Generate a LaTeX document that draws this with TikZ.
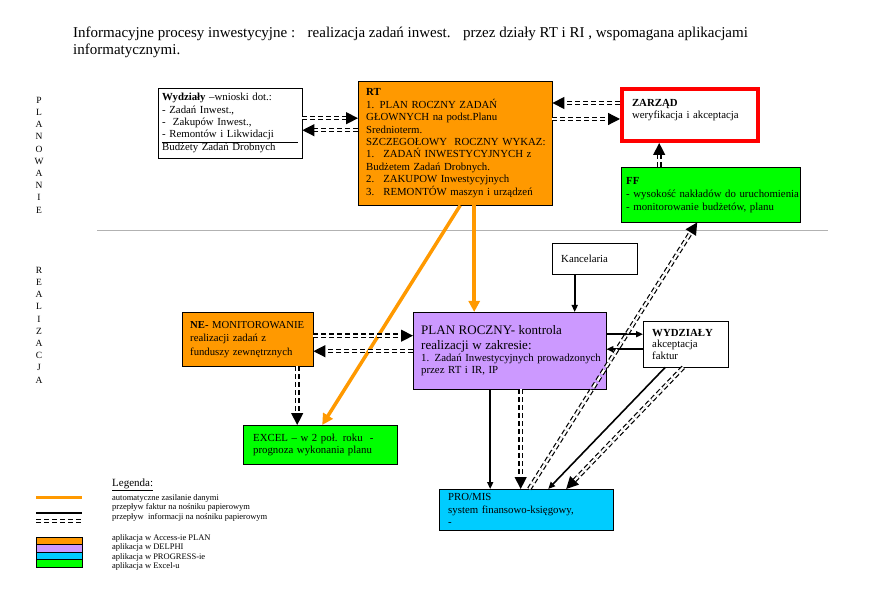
\documentclass[tikz,border=0pt]{standalone}
\usepackage{fontspec}
\setmainfont{Liberation Serif}
\usetikzlibrary{arrows.meta}
\definecolor{planorange}{RGB}{255,153,0}
\definecolor{delphiviolet}{RGB}{204,153,255}
\definecolor{progresscyan}{RGB}{0,204,255}
\definecolor{excelgreen}{RGB}{0,255,0}

\begin{document}
\begin{tikzpicture}[x=1pt,y=-1pt]
	\tikzstyle{box}=[rectangle,draw,anchor=north west,align=left,inner ysep=2pt,font=\fontsize{10.8}{12.4}\selectfont]
	\tikzstyle{info}=[double,double distance=2.2pt,line width=1.2pt,dash pattern=on 5pt off 3pt,-{Triangle[length=12pt,width=12pt]}]
	\tikzstyle{invoice}=[line width=1.6pt,-{Triangle[length=7pt,width=6pt]}]
	\tikzstyle{feed}=[line width=3.5pt,planorange,-{Triangle[length=11pt,width=11pt]}]
	\tikzstyle{legendtext}=[anchor=west,inner sep=0pt,font=\fontsize{8.5}{10}\selectfont]
	\tikzstyle{phase}=[align=center,inner sep=0pt,font=\fontsize{9.5}{12.2}\selectfont]
	\useasboundingbox (0,0) rectangle (886,601);
	\node (title) at (73,27) [anchor=north west,inner sep=0pt,align=left,font=\fontsize{15}{17}\selectfont] {Informacyjne procesy inwestycyjne :~~ realizacja zadań inwest.~~ przez działy RT i RI , wspomagana aplikacjami\\informatycznymi.};
	\node (phase1) at (39,155) [phase] {P\\L\\A\\N\\O\\W\\A\\N\\I\\E};
	\node (phase2) at (39,325) [phase] {R\\E\\A\\L\\I\\Z\\A\\C\\J\\A};
	\draw [gray!60,line width=0.8pt] (97,230) -- (828,230);
	\node (wydz) at (158,88) [box,inner xsep=4pt,text width=136pt,minimum height=70pt] {\begin{tabular}{@{}p{136pt}@{}}\textbf{Wydziały} --wnioski dot.:\\- Zadań Inwest.,\\-~ Zakupów Inwest.,\\- Remontów i Likwidacji\\\hline Budżety Zadań Drobnych\end{tabular}};
	\node (rt) at (358,81) [box,fill=planorange,inner xsep=8pt,text width=178pt,minimum height=124pt] {\textbf{RT}\\1. PLAN ROCZNY ZADAŃ\\GŁOWNYCH na podst.Planu\\Srednioterm.\\\mbox{SZCZEGOŁOWY~ ROCZNY WYKAZ:}\\\mbox{1.~ ZADAŃ INWESTYCYJNYCH z}\\Budżetem Zadań Drobnych.\\2.~ ZAKUPOW Inwestycyjnych\\\mbox{3.~ REMONTÓW maszyn i urządzeń}};
	\node (zarzad) at (620,87) [box,draw=red,line width=4pt,inner xsep=10pt,inner ysep=0pt,text width=116pt,minimum height=52pt,text depth=24pt] {\textbf{ZARZĄD}\\weryfikacja i akceptacja};
	\node (ff) at (621,167) [box,fill=excelgreen,inner xsep=5pt,text width=169pt,minimum height=55pt,font=\fontsize{10.8}{13}\selectfont] {\textbf{FF}\\\mbox{- wysokość nakładów do uruchomienia}\\- monitorowanie budżetów, planu};
	\node (kanc) at (552,243) [box,inner xsep=9pt,text width=67pt,minimum height=31pt] {Kancelaria};
	\node (ne) at (182,312) [box,fill=planorange,inner xsep=8pt,text width=115pt,minimum height=54pt,font=\fontsize{10.7}{13.5}\selectfont] {\mbox{\textbf{NE-} MONITOROWANIE}\\realizacji zadań z\\funduszy zewnętrznych};
	\node (plan) at (413,312) [box,fill=delphiviolet,inner xsep=8pt,text width=177pt,minimum height=77pt] {{\fontsize{13}{15}\selectfont PLAN ROCZNY- kontrola\\realizacji w zakresie:\par}\mbox{1. Zadań Inwestycyjnych prowadzonych}\\przez RT i IR, IP};
	\node (wydz2) at (643,321) [box,inner xsep=9pt,text width=67pt,minimum height=46pt,font=\fontsize{10.8}{11.6}\selectfont] {\textbf{WYDZIAŁY}\\akceptacja\\faktur};
	\node (excel) at (243,425) [box,fill=excelgreen,inner xsep=10pt,text width=134pt,minimum height=39pt] {EXCEL -- w 2 poł. roku~ -\\prognoza wykonania planu};
	\node (promis) at (439,489) [box,fill=progresscyan,inner xsep=9pt,text width=156pt,minimum height=41pt,font=\fontsize{10.8}{12.5}\selectfont] {PRO/MIS\\system finansowo-księgowy,\\-};
	\draw [info] ([yshift=5pt]wydz.east) -- ([yshift=5pt]wydz.east -| rt.west);
	\draw [info] ([yshift=-7pt]wydz.east -| rt.west) -- ([yshift=-7pt]wydz.east);
	\draw [info] ([yshift=12pt]zarzad.west) -- ([yshift=12pt]zarzad.west -| rt.east);
	\draw [info] ([yshift=-4pt]zarzad.west -| rt.east) -- ([yshift=-4pt]zarzad.west);
	\draw [info] ([xshift=-51.5pt]ff.north) -- ([xshift=-51.5pt]ff.north |- zarzad.south);
	\draw [feed] ([xshift=19pt]rt.south) -- ([xshift=19pt]rt.south |- plan.north);
	\draw [feed] ([xshift=5pt]rt.south) -- ([xshift=2pt]excel.north);
	\draw [invoice] ([xshift=-20pt]kanc.south) -- ([xshift=-20pt]kanc.south |- plan.north);
	\draw [info] ([yshift=3.5pt]ne.east) -- ([yshift=3.5pt]ne.east -| plan.west);
	\draw [info] ([yshift=-12pt]ne.east -| plan.west) -- ([yshift=-12pt]ne.east);
	\draw [info] ([xshift=49.5pt]ne.south) -- ([xshift=49.5pt]ne.south |- excel.north);
	\draw [invoice] ([yshift=16.5pt]plan.east) -- ([yshift=16.5pt]plan.east -| wydz2.west);
	\draw [invoice] ([yshift=1.5pt]plan.east -| wydz2.west) -- ([yshift=1.5pt]plan.east);
	\draw [invoice] ([xshift=-19.5pt]plan.south) -- ([xshift=-19.5pt]plan.south |- promis.north);
	\draw [info] ([xshift=11pt]plan.south) -- ([xshift=11pt]plan.south |- promis.north);
	\draw [info] ([xshift=3pt]promis.north) -- ([xshift=-13.5pt]ff.south);
	\draw [invoice] ([xshift=-20.5pt]wydz2.south) -- ([xshift=22pt]promis.north);
	\draw [info] ([xshift=-2.5pt]wydz2.south) -- ([xshift=40pt]promis.north);
	\node (legend0) at (112,485) [legendtext,font=\fontsize{11}{12}\selectfont] {\underline{Legenda:}};
	\node (legend1) at (112,498) [legendtext] {automatyczne zasilanie danymi};
	\node (legend2) at (112,507.5) [legendtext] {przepływ faktur na nośniku papierowym};
	\node (legend3) at (112,517) [legendtext] {przepływ~ informacji na nośniku papierowym};
	\node (legend4) at (112,538) [legendtext] {aplikacja w Access-ie PLAN};
	\node (legend5) at (112,547.5) [legendtext] {aplikacja w DELPHI};
	\node (legend6) at (112,557) [legendtext] {aplikacja w PROGRESS-ie};
	\node (legend7) at (112,566.5) [legendtext] {aplikacja w Excel-u};
	\draw [line width=3.5pt,planorange] (36,497.5) -- (82,497.5);
	\draw [line width=2pt] (36,512.5) -- (82,512.5);
	\draw [double,double distance=2.2pt,line width=1.2pt,dash pattern=on 5pt off 3pt] (36,521) -- (82,521);
	\draw [fill=planorange] (36,537) rectangle (82,544);
	\draw [fill=delphiviolet] (36,544) rectangle (82,552);
	\draw [fill=progresscyan] (36,552) rectangle (82,559);
	\draw [fill=excelgreen] (36,559) rectangle (82,567);
\end{tikzpicture}
\end{document}
